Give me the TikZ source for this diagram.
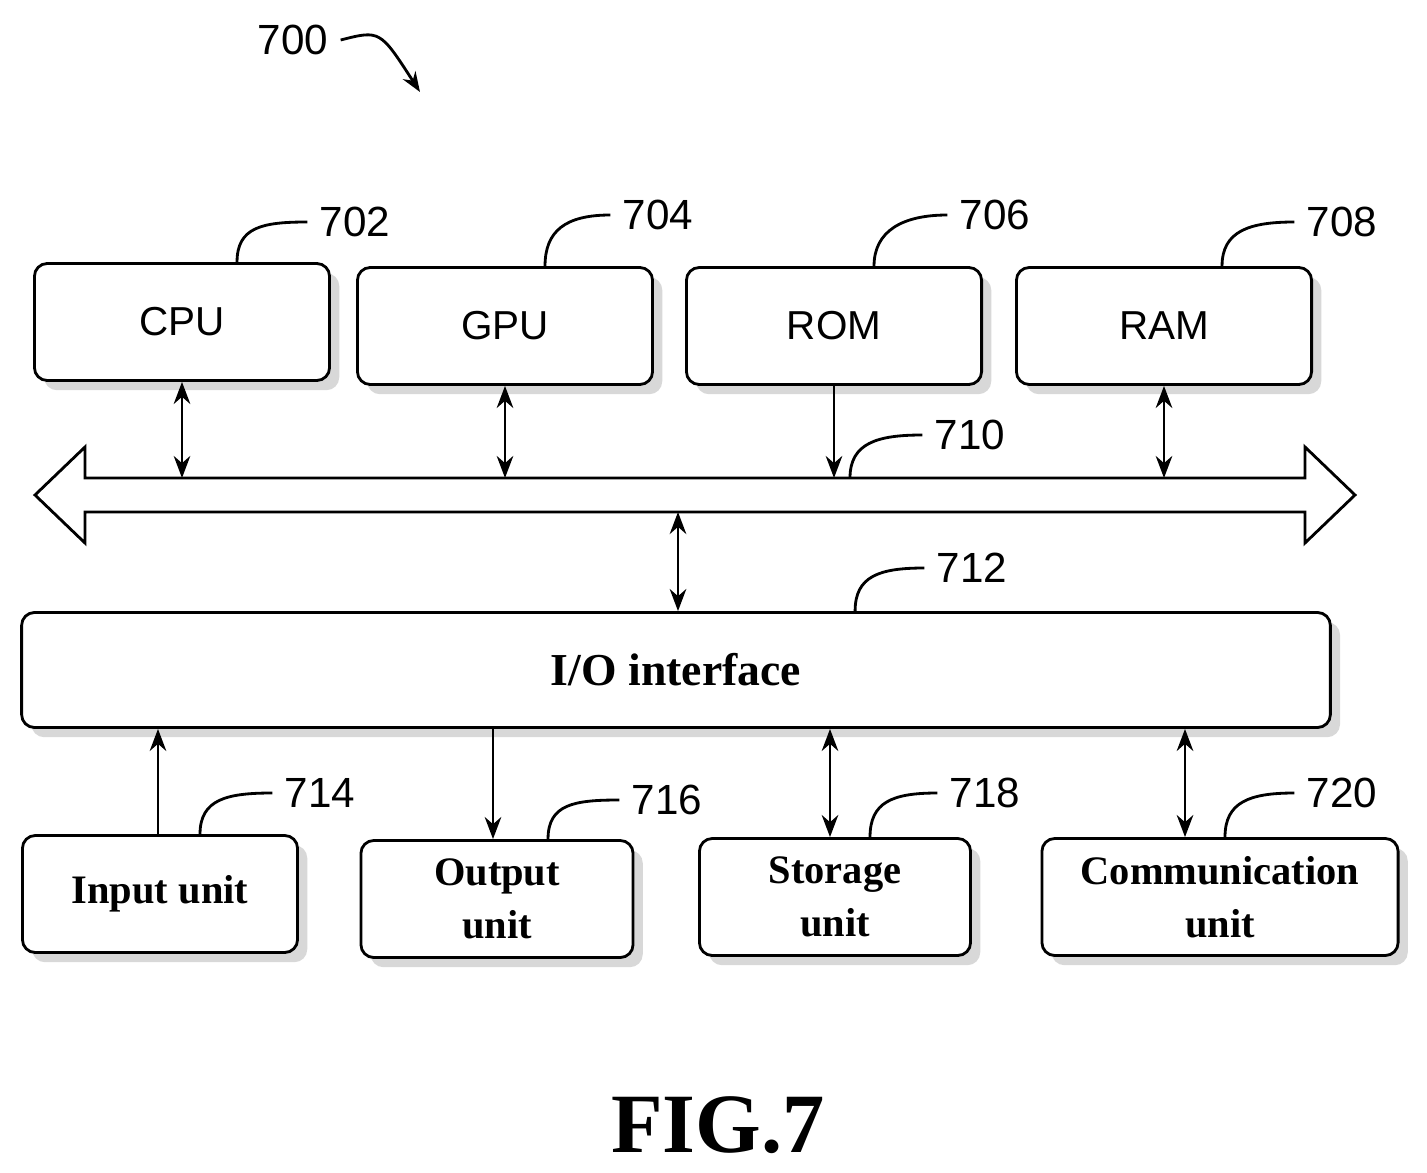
\documentclass[tikz,border=0pt]{standalone}
\usepackage{fontspec}
\setmainfont{Liberation Serif}
\setsansfont{Liberation Sans}
\usetikzlibrary{shadows,arrows.meta}
\begin{document}
\begin{tikzpicture}[x=0.01cm,y=-0.01cm,
  unit/.style={rectangle,draw,thick,fill=white,rounded corners=.8ex,drop shadow={shadow xshift=.6ex,shadow yshift=-.6ex,fill=gray!60}},
  chip/.style={unit,minimum width=2.95cm,minimum height=1.17cm,font=\sffamily\fontsize{11.5}{13}\selectfont},
  dev/.style={unit,minimum height=1.17cm,inner sep=1pt,align=center,font=\bfseries\fontsize{11.5}{15}\selectfont},
  num/.style={font=\sffamily\fontsize{12}{14}\selectfont},
  link/.style={thick,-{Stealth[length=2.2mm]}},
  both/.style={thick,{Stealth[length=2.2mm]}-{Stealth[length=2.2mm]}}
  ]
\useasboundingbox (0,0) rectangle (1427,1173);

% processors and memories
\node[chip] (cpu) at (182,322) {CPU};
\node[chip] (gpu) at (505,326) {GPU};
\node[chip] (rom) at (834,326) {ROM};
\node[chip] (ram) at (1164,326) {RAM};

% bus
\draw[thick,fill=white] (35,495) -- (85,447) -- (85,478) -- (1305,478) -- (1305,447)
  -- (1355,495) -- (1305,543) -- (1305,512) -- (85,512) -- (85,543) -- cycle;
\coordinate (bcpu) at (182,478);
\coordinate (bgpu) at (505,478);
\coordinate (brom) at (834,478);
\coordinate (bram) at (1164,478);
\coordinate (bio) at (678,512);
\coordinate (btap) at (850,478);

% interface and units
\node[unit,minimum width=13.08cm,minimum height=1.15cm,font=\bfseries\fontsize{13}{15}\selectfont] (io) at (676,670) {I/O interface};
\node[dev,minimum width=2.75cm] (in) at (160,894) {Input unit};
\node[dev,minimum width=2.72cm] (out) at (497,899) {Output\\unit};
\node[dev,minimum width=2.71cm] (sto) at (835,897) {Storage\\unit};
\node[dev,minimum width=3.56cm] (com) at (1220,897) {Communication\\unit};

\coordinate (xin) at (158,0);
\coordinate (xout) at (493,0);
\coordinate (xsto) at (830,0);
\coordinate (xcom) at (1185,0);

\draw[both] (cpu.south -| bcpu) -- (bcpu);
\draw[both] (gpu.south -| bgpu) -- (bgpu);
\draw[link] (rom.south -| brom) -- (brom);
\draw[both] (ram.south -| bram) -- (bram);
\draw[both] (bio) -- (io.north -| bio);
\draw[link] (in.north -| xin) -- (io.south -| xin);
\draw[link] (io.south -| xout) -- (out.north -| xout);
\draw[both] (io.south -| xsto) -- (sto.north -| xsto);
\draw[both] (io.south -| xcom) -- (com.north -| xcom);

% reference numerals
\node[num] (n700) at (293,40) {700};
\draw[thick,-{Stealth[length=2mm]}] (n700.east) .. controls (380,30) .. (420,92);
\node[num] (n702) at (355,222) {702};
\draw[thick] ([xshift=0.55cm]cpu.north) .. controls +(0,-35) and +(-45,0) .. (n702.west);
\node[num] (n704) at (658,215) {704};
\draw[thick] ([xshift=0.4cm]gpu.north) .. controls +(0,-35) and +(-45,0) .. (n704.west);
\node[num] (n706) at (995,215) {706};
\draw[thick] ([xshift=0.4cm]rom.north) .. controls +(0,-35) and +(-45,0) .. (n706.west);
\node[num] (n708) at (1342,222) {708};
\draw[thick] ([xshift=0.58cm]ram.north) .. controls +(0,-35) and +(-45,0) .. (n708.west);
\node[num] (n710) at (970,435) {710};
\draw[thick] (btap) .. controls +(0,-35) and +(-45,0) .. (n710.west);
\node[num] (n712) at (972,568) {712};
\draw[thick] ([xshift=1.79cm]io.north) .. controls +(0,-35) and +(-45,0) .. (n712.west);
\node[num] (n714) at (320,793) {714};
\draw[thick] ([xshift=0.4cm]in.north) .. controls +(0,-35) and +(-45,0) .. (n714.west);
\node[num] (n716) at (667,800) {716};
\draw[thick] ([xshift=0.51cm]out.north) .. controls +(0,-35) and +(-45,0) .. (n716.west);
\node[num] (n718) at (985,793) {718};
\draw[thick] ([xshift=0.35cm]sto.north) .. controls +(0,-35) and +(-45,0) .. (n718.west);
\node[num] (n720) at (1342,793) {720};
\draw[thick] ([xshift=0.05cm]com.north) .. controls +(0,-35) and +(-45,0) .. (n720.west);

\node[font=\bfseries\fontsize{24}{28}\selectfont] (fig) at (718,1125) {FIG.7};
\end{tikzpicture}
\end{document}
